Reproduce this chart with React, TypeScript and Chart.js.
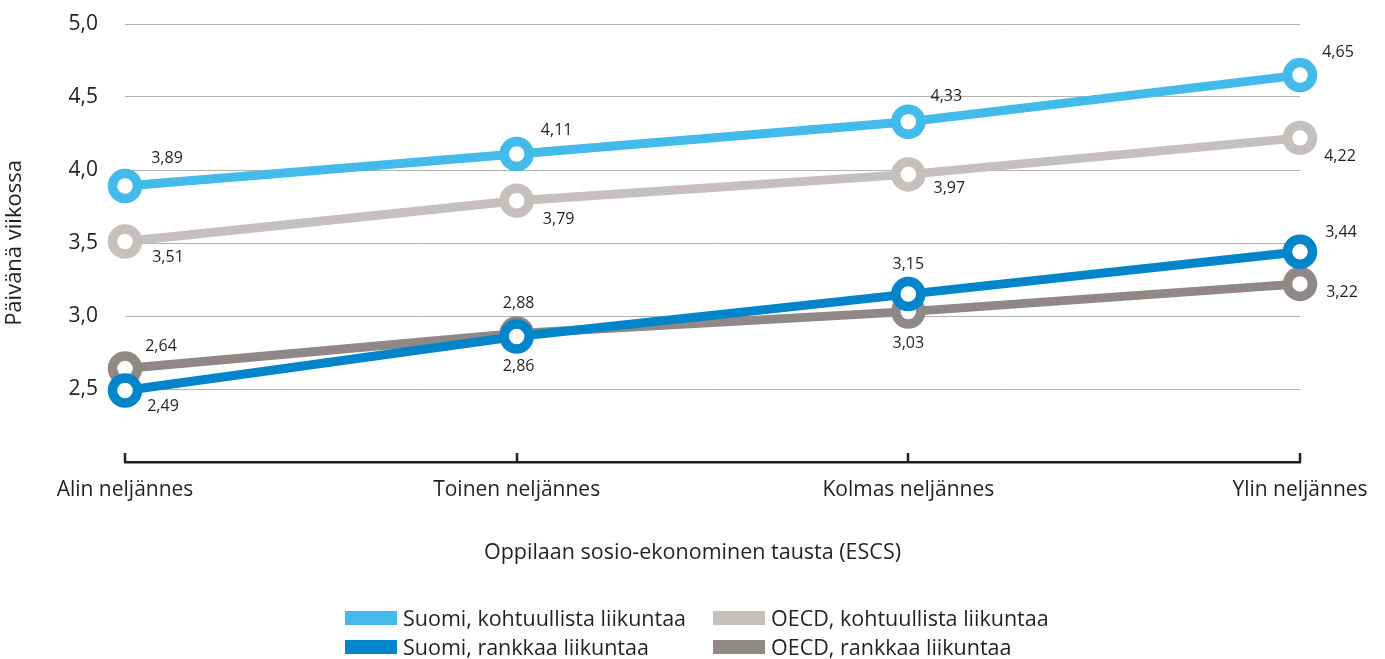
import React, { useEffect, useRef } from "react";
import { Chart, registerables } from "chart.js";

Chart.register(...registerables);

const categories = ["Alin neljännes", "Toinen neljännes", "Kolmas neljännes", "Ylin neljännes"];
const suomiModerate = [3.89, 4.11, 4.33, 4.65];
const oecdModerate = [3.51, 3.79, 3.97, 4.22];
const suomiVigorous = [2.49, 2.86, 3.15, 3.44];
const oecdVigorous = [2.64, 2.88, 3.03, 3.22];
const seriesNames = [
  "Suomi, kohtuullista liikuntaa",
  "OECD, kohtuullista liikuntaa",
  "Suomi, rankkaa liikuntaa",
  "OECD, rankkaa liikuntaa",
];
const yTitle = "Päivänä viikossa";
const xTitle = "Oppilaan sosio-ekonominen tausta (ESCS)";

// styles (kept apart from data)
const COLORS = {
  suomiModerate: "#42BAEA",
  oecdModerate: "#C5BFBE",
  suomiVigorous: "#0085CA",
  oecdVigorous: "#8F8886",
};
const TEXT = "#231F20";
const FONT = "'Open Sans', sans-serif";

// value label offsets in px relative to point (style only)
const suomiModerateOffsets = [[42, -28], [40, -24], [38, -25], [38, -23]];
const oecdModerateOffsets = [[43, 16], [42, 19], [41, 14], [40, 19]];
const suomiVigorousOffsets = [[38, 16], [2, 30], [0, -30], [41, -19]];
const oecdVigorousOffsets = [[36, -22], [2, -30], [0, 32], [42, 9]];

const fmt2 = (v: number) => v.toFixed(2).replace(".", ",");
const fmt1 = (v: number) => v.toFixed(1).replace(".", ",");

const valueLabelPlugin = {
  id: "valueLabels",
  afterDatasetsDraw(chart: any) {
    const ctx = chart.ctx;
    ctx.save();
    ctx.font = `16px ${FONT}`;
    ctx.fillStyle = TEXT;
    ctx.textAlign = "center";
    ctx.textBaseline = "middle";
    chart.data.datasets.forEach((ds: any, di: number) => {
      const meta = chart.getDatasetMeta(di);
      const offs = ds.labelOffsets as number[][];
      meta.data.forEach((pt: any, i: number) => {
        const [dx, dy] = offs[i];
        ctx.fillText(fmt2(ds.data[i]), pt.x + dx, pt.y + dy);
      });
    });
    ctx.restore();
  },
};

const upTicksPlugin = {
  id: "upTicks",
  afterDraw(chart: any) {
    const ctx = chart.ctx;
    const xs = chart.scales.x;
    const bottom = chart.chartArea.bottom;
    ctx.save();
    ctx.strokeStyle = TEXT;
    ctx.lineWidth = 2.5;
    for (let i = 0; i < categories.length; i++) {
      const x = Math.round(xs.getPixelForTick(i));
      ctx.beginPath();
      ctx.moveTo(x, bottom + 1);
      ctx.lineTo(x, bottom - 9);
      ctx.stroke();
    }
    // x-axis title, centred on the whole canvas
    ctx.font = `21.5px ${FONT}`;
    ctx.fillStyle = TEXT;
    ctx.textAlign = "center";
    ctx.textBaseline = "middle";
    ctx.fillText(xTitle, chart.width / 2, bottom + 91);
    ctx.restore();
  },
};

export default function App() {
  const ref = useRef<HTMLCanvasElement | null>(null);

  useEffect(() => {
    if (!ref.current) return;
    const mk = (label: string, data: number[], color: string, offsets: number[][], order: number) => ({
      label,
      data,
      borderColor: color,
      backgroundColor: color,
      borderWidth: 9,
      pointRadius: 12.5,
      pointHoverRadius: 12.5,
      pointBorderWidth: 9.5,
      pointBackgroundColor: "#ffffff",
      pointBorderColor: color,
      tension: 0,
      clip: false,
      order,
      labelOffsets: offsets,
    });
    const chart = new Chart(ref.current, {
      type: "line",
      data: {
        labels: categories,
        datasets: [
          mk(seriesNames[2], suomiVigorous, COLORS.suomiVigorous, suomiVigorousOffsets, 0),
          mk(seriesNames[3], oecdVigorous, COLORS.oecdVigorous, oecdVigorousOffsets, 1),
          mk(seriesNames[0], suomiModerate, COLORS.suomiModerate, suomiModerateOffsets, 2),
          mk(seriesNames[1], oecdModerate, COLORS.oecdModerate, oecdModerateOffsets, 3),
        ] as any,
      },
      options: {
        animation: false,
        responsive: false,
        devicePixelRatio: 1,
        layout: { padding: { top: 24, right: 85, left: 0, bottom: 0 } },
        plugins: {
          legend: { display: false },
          tooltip: { enabled: false },
          title: { display: false },
        },
        scales: {
          x: {
            type: "category",
            offset: false,
            grid: { display: false, drawTicks: false },
            border: { display: true, color: TEXT, width: 2.5 },
            ticks: {
              color: TEXT,
              font: { family: FONT, size: 21 },
              padding: 15,
              maxRotation: 0,
              autoSkip: false,
            },
            afterFit: (s: any) => {
              s.height = 197;
            },
          },
          y: {
            min: 2,
            max: 5,
            grid: {
              drawTicks: false,
              color: (c: any) => (c.tick && c.tick.value === 2 ? "rgba(0,0,0,0)" : "#B1B1B1"),
              lineWidth: 1,
            },
            border: { display: false },
            ticks: {
              stepSize: 0.5,
              color: TEXT,
              font: { family: FONT, size: 21 },
              padding: 27,
              callback: (v: any) => (Number(v) === 2 ? "" : fmt1(Number(v))),
            },
            title: {
              display: true,
              text: yTitle,
              color: TEXT,
              font: { family: FONT, size: 22 },
              padding: { top: 2, bottom: 0 },
            },
            afterFit: (s: any) => {
              s.width = 125;
              s.paddingTop = 0;
              s.paddingBottom = 0;
            },
          },
        },
      },
      plugins: [valueLabelPlugin, upTicksPlugin],
    });
    return () => chart.destroy();
  }, []);

  const legendItems = [
    { name: seriesNames[0], color: COLORS.suomiModerate },
    { name: seriesNames[1], color: COLORS.oecdModerate },
    { name: seriesNames[2], color: COLORS.suomiVigorous },
    { name: seriesNames[3], color: COLORS.oecdVigorous },
  ];
  const colLeft = [345, 713];
  const rowCenter = [618, 647];

  return (
    <div style={{ position: "absolute", left: 0, top: 0, width: 1385, height: 659, background: "#fff", overflow: "hidden" }}>
      <canvas ref={ref} width={1385} height={659} style={{ position: "absolute", left: 0, top: 0, width: 1385, height: 659 }} />
      {legendItems.map((it, i) => (
        <div
          key={it.name}
          style={{
            position: "absolute",
            left: colLeft[i % 2],
            top: rowCenter[Math.floor(i / 2)] - 15,
            height: 30,
            display: "flex",
            alignItems: "center",
            fontFamily: FONT,
            fontSize: 21.5,
            color: TEXT,
            whiteSpace: "nowrap",
          }}
        >
          <span style={{ display: "inline-block", width: 52, height: 14, background: it.color, marginRight: 6 }} />
          <span style={{ lineHeight: "30px" }}>{it.name}</span>
        </div>
      ))}
    </div>
  );
}
